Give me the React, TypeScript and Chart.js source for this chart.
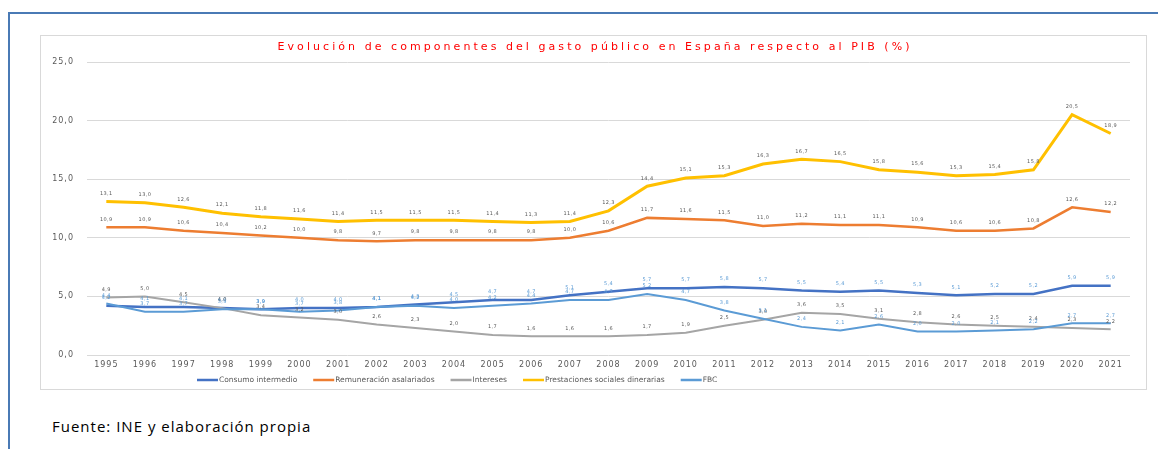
import React, { useEffect, useRef } from 'react';
import { Chart, registerables } from 'chart.js';

Chart.register(...registerables);

const years = ['1995','1996','1997','1998','1999','2000','2001','2002','2003','2004','2005','2006','2007','2008','2009','2010','2011','2012','2013','2014','2015','2016','2017','2018','2019','2020','2021'];
const consumoIntermedio = [4.2,4.1,4.1,4.0,3.9,4.0,4.0,4.1,4.3,4.5,4.7,4.7,5.1,5.4,5.7,5.7,5.8,5.7,5.5,5.4,5.5,5.3,5.1,5.2,5.2,5.9,5.9];
const remuneracionAsalariados = [10.9,10.9,10.6,10.4,10.2,10.0,9.8,9.7,9.8,9.8,9.8,9.8,10.0,10.6,11.7,11.6,11.5,11.0,11.2,11.1,11.1,10.9,10.6,10.6,10.8,12.6,12.2];
const intereses = [4.9,5.0,4.5,4.0,3.4,3.2,3.0,2.6,2.3,2.0,1.7,1.6,1.6,1.6,1.7,1.9,2.5,3.0,3.6,3.5,3.1,2.8,2.6,2.5,2.4,2.3,2.2];
const prestacionesSociales = [13.1,13.0,12.6,12.1,11.8,11.6,11.4,11.5,11.5,11.5,11.4,11.3,11.4,12.3,14.4,15.1,15.3,16.3,16.7,16.5,15.8,15.6,15.3,15.4,15.8,20.5,18.9];
const fbc = [4.4,3.7,3.7,3.9,3.9,3.7,3.8,4.1,4.2,4.0,4.2,4.4,4.7,4.7,5.2,4.7,3.8,3.1,2.4,2.1,2.6,2.0,2.0,2.1,2.2,2.7,2.7];

const yMin = 0;
const yMax = 25;
const yStep = 5;

const seriesNames = ['Consumo intermedio', 'Remuneración asalariados', 'Intereses', 'Prestaciones sociales dinerarias', 'FBC'];
const seriesValues = [consumoIntermedio, remuneracionAsalariados, intereses, prestacionesSociales, fbc];
const seriesColors = ['#4472C4', '#ED7D31', '#A5A5A5', '#FFC000', '#5B9BD5'];
const labelColors = ['#5B9BD5', '#595959', '#595959', '#595959', '#5B9BD5'];
const lineWidths = [2.5, 2.5, 2, 3, 2];

const TITLE = 'Evolución de componentes del gasto público en España respecto al PIB (%)';
const SOURCE = 'Fuente: INE y elaboración propia';

const fmt = (v: number) => v.toFixed(1).replace('.', ',');
const FONT = '"DejaVu Sans", Verdana, sans-serif';

const decorPlugin = {
  id: 'decor',
  beforeDraw(chart: any) {
    chart.ctx.letterSpacing = '1px';
  },
  afterDatasetsDraw(chart: any) {
    const ctx = chart.ctx;
    ctx.save();
    ctx.letterSpacing = '0.4px';
    ctx.font = `5px ${FONT}`;
    ctx.textAlign = 'center';
    ctx.textBaseline = 'middle';
    chart.data.datasets.forEach((ds: any, i: number) => {
      const meta = chart.getDatasetMeta(i);
      ctx.fillStyle = labelColors[i];
      meta.data.forEach((pt: any, j: number) => {
        ctx.fillText(fmt(ds.data[j]), pt.x, pt.y - 8);
      });
    });
    ctx.restore();
  },
  afterDraw(chart: any) {
    const ctx = chart.ctx;
    ctx.save();
    // title
    ctx.font = `11px ${FONT}`;
    ctx.letterSpacing = '0px';
    const natural = ctx.measureText(TITLE).width;
    const spacing = Math.max(0, (635 - natural) / TITLE.length);
    ctx.letterSpacing = `${spacing}px`;
    ctx.fillStyle = '#FF0000';
    ctx.textAlign = 'center';
    ctx.textBaseline = 'middle';
    ctx.fillText(TITLE, chart.width / 2 + spacing / 2, 11);
    // legend
    ctx.font = `7.5px ${FONT}`;
    ctx.letterSpacing = '0px';
    ctx.textAlign = 'left';
    let x = 156;
    const y = 344;
    seriesNames.forEach((name, i) => {
      ctx.strokeStyle = seriesColors[i];
      ctx.lineWidth = 2.5;
      ctx.beginPath();
      ctx.moveTo(x, y);
      ctx.lineTo(x + 21, y);
      ctx.stroke();
      ctx.fillStyle = '#595959';
      ctx.fillText(name, x + 22, y);
      x += 22 + ctx.measureText(name).width + 16;
    });
    ctx.restore();
  },
};

export default function App() {
  const ref = useRef<HTMLCanvasElement>(null);
  useEffect(() => {
    document.body.style.overflow = 'hidden';
    const n = seriesNames.length;
    const chart = new Chart(ref.current!, {
      type: 'line',
      data: {
        labels: years,
        datasets: seriesNames.map((name, i) => ({
          label: name,
          data: seriesValues[i],
          borderColor: seriesColors[i],
          backgroundColor: seriesColors[i],
          borderWidth: lineWidths[i],
          pointRadius: 0,
          tension: 0,
          fill: false,
          order: n - 1 - i,
        })),
      },
      options: {
        responsive: false,
        animation: false,
        devicePixelRatio: 1,
        layout: { padding: { top: 26, right: 16, left: 0, bottom: 0 } },
        plugins: {
          legend: { display: false },
          title: { display: false },
          tooltip: { enabled: false },
        },
        scales: {
          x: {
            offset: true,
            grid: { display: false, drawTicks: false },
            border: { display: false },
            ticks: {
              autoSkip: false,
              maxRotation: 0,
              padding: 5,
              color: '#595959',
              font: { family: FONT, size: 8 },
            },
            afterFit: (s: any) => { s.height = 34; },
          },
          y: {
            min: yMin,
            max: yMax,
            grid: { color: '#D9D9D9', drawTicks: false, lineWidth: 1 },
            border: { display: false },
            ticks: {
              stepSize: yStep,
              padding: 13,
              color: '#595959',
              font: { family: FONT, size: 8 },
              callback: (v: any) => fmt(Number(v)),
            },
            afterFit: (s: any) => { s.width = 46; },
          },
        },
      },
      plugins: [decorPlugin],
    });
    return () => chart.destroy();
  }, []);

  return (
    <div style={{ position: 'relative', width: 1150, height: 441 }}>
      <div style={{ position: 'absolute', left: 0, top: 4, width: 1200, height: 500, borderLeft: '2px solid #4A7AB5', borderTop: '2px solid #4A7AB5' }} />
      <div style={{ position: 'absolute', left: 32, top: 27, width: 1107, height: 355, border: '1px solid #D9D9D9', boxSizing: 'border-box', background: '#fff' }}>
        <canvas ref={ref} width={1105} height={353} style={{ display: 'block', width: 1105, height: 353 }} />
      </div>
      <div style={{ position: 'absolute', left: 44, top: 408, fontFamily: '"Open Sans", sans-serif', fontSize: 15, letterSpacing: 1, color: '#000', whiteSpace: 'nowrap' }}>{SOURCE}</div>
    </div>
  );
}
